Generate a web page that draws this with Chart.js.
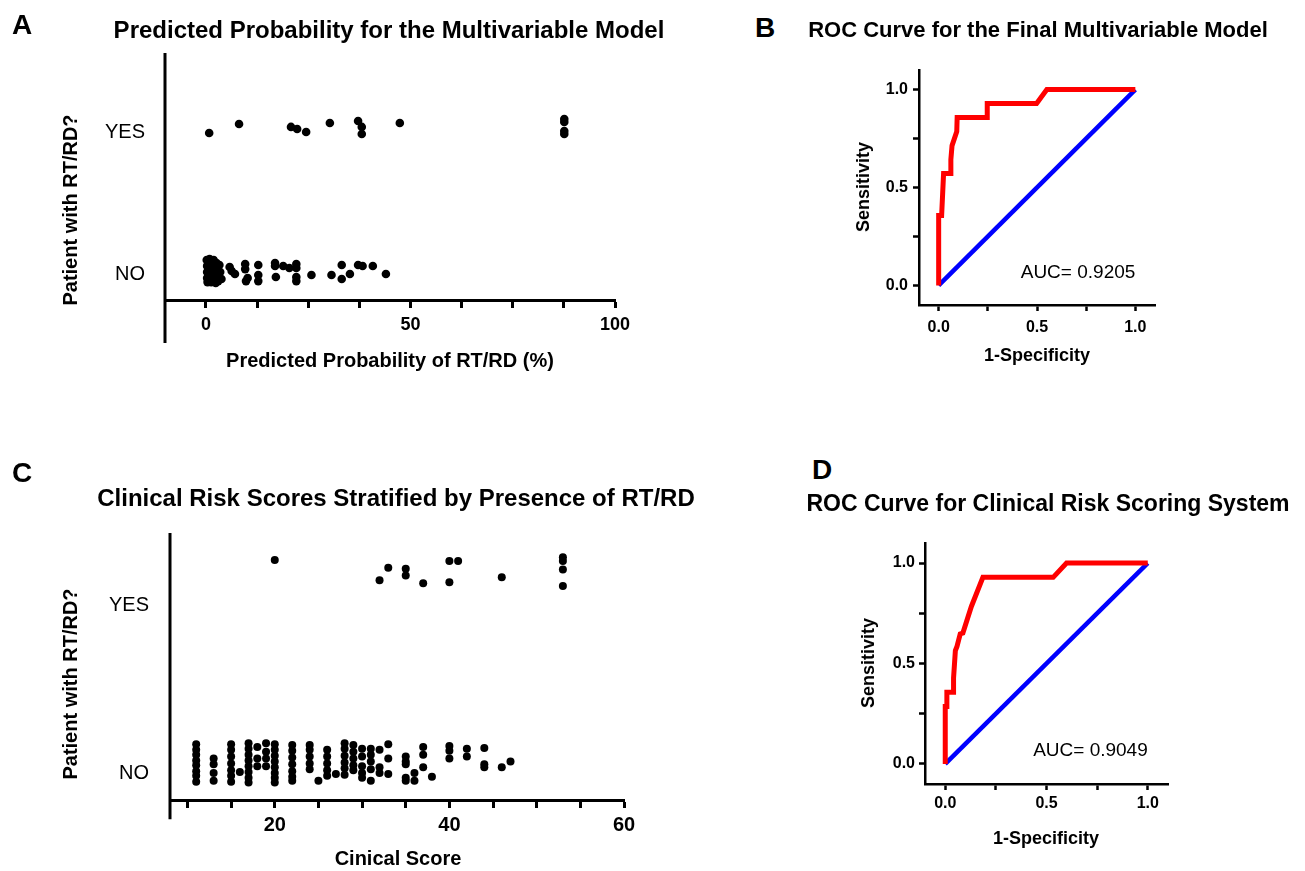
<!DOCTYPE html>
<html>
<head>
<meta charset="utf-8">
<script src="https://cdn.jsdelivr.net/npm/chart.js@4.4.1/dist/chart.umd.min.js"></script>
<style>
html, body { margin: 0; padding: 0; background: #fff; overflow: hidden; }
body { width: 1305px; height: 871px; position: relative; font-family: "Liberation Sans", Arial, sans-serif; color: #000; }
canvas { position: absolute; }
.t { position: absolute; white-space: nowrap; transform: translate(-50%, -50%); font-weight: bold; line-height: 1; z-index: 2; }
.v { transform: translate(-50%, -50%) rotate(-90deg); }
</style>
</head>
<body>

<canvas id="chartA" width="680" height="380" style="left:0;top:0"></canvas>
<canvas id="chartB" width="500" height="350" style="left:780px;top:40px"></canvas>
<canvas id="chartC" width="700" height="371" style="left:0;top:500px"></canvas>
<canvas id="chartD" width="500" height="360" style="left:780px;top:500px"></canvas>

<!-- panel letters -->
<div class="t" style="left:22px;top:25px;font-size:28px">A</div>
<div class="t" style="left:765px;top:28px;font-size:28px">B</div>
<div class="t" style="left:22px;top:473px;font-size:28px">C</div>
<div class="t" style="left:822px;top:470px;font-size:28px">D</div>

<!-- titles -->
<div class="t" style="left:389px;top:30px;font-size:24px">Predicted Probability for the Multivariable Model</div>
<div class="t" style="left:1038px;top:30px;font-size:22px">ROC Curve for the Final Multivariable Model</div>
<div class="t" style="left:396px;top:498px;font-size:24px">Clinical Risk Scores Stratified by Presence of RT/RD</div>
<div class="t" style="left:1048px;top:503px;font-size:23px">ROC Curve for Clinical Risk Scoring System</div>

<!-- axis titles -->
<div class="t" style="left:390px;top:360px;font-size:20px">Predicted Probability of RT/RD (%)</div>
<div class="t v" style="left:70px;top:210px;font-size:20px">Patient with RT/RD?</div>
<div class="t" style="left:1037px;top:355px;font-size:18px">1-Specificity</div>
<div class="t v" style="left:863px;top:187px;font-size:18px">Sensitivity</div>
<div class="t" style="left:398px;top:858px;font-size:20px">Cinical Score</div>
<div class="t v" style="left:70px;top:684px;font-size:20px">Patient with RT/RD?</div>
<div class="t" style="left:1046px;top:838px;font-size:18px">1-Specificity</div>
<div class="t v" style="left:868px;top:663px;font-size:18px">Sensitivity</div>

<script>
/* ===============================
   DATA
================================= */
const groups = ['NO', 'YES'];

// A: predicted probability (%) per patient, with vertical jitter around its group
const probNoPct = [0.2, 0.3, 0.3, 0.3, 0.4, 0.6, 0.6, 0.7, 0.8, 0.9, 1.0, 1.1, 1.1, 1.3, 1.4, 1.5, 1.6, 1.7, 1.9, 2.0,
    2.1, 2.2, 2.4, 2.6, 2.7, 2.9, 3.0, 3.3, 3.5, 3.8, 0.5, 1.2, 2.3,
    5.8, 6.3, 7.1, 9.6, 9.6, 10.2, 9.8, 12.8, 12.8, 12.8, 16.9, 16.9, 17.1, 18.9, 20.4,
    22.1, 22.1, 22.1, 22.1, 25.8, 30.7, 33.2, 33.2, 35.2, 37.2, 38.3, 40.8, 44.0];
const probNoJitter = [0.10, 0.057, 0.014, -0.028, -0.057, 0.085, 0.035, -0.007, -0.05, 0.106, 0.064, 0.021, -0.021, -0.057, 0.085, 0.043, 0, -0.043, 0.099, 0.057,
    0.014, -0.028, -0.064, 0.078, 0.028, -0.014, -0.05, 0.064, 0.014, -0.035, 0.07, -0.035, 0.04,
    0.05, 0.021, 0, 0.071, 0.035, -0.028, -0.05, 0.064, -0.007, -0.05, 0.078, 0.057, -0.021, 0.057, 0.043,
    0.071, 0.043, -0.021, -0.05, -0.007, -0.007, 0.064, -0.035, 0, 0.064, 0.057, 0.057, 0];
const probYesPct = [0.8, 8.1, 20.8, 22.3, 24.5, 30.3, 37.2, 38.1, 38.1, 47.4, 87.6, 87.6, 87.6, 87.6];
const probYesJitter = [0, 0.064, 0.043, 0.028, 0.007, 0.071, 0.085, 0.043, -0.007, 0.071, 0.099, 0.078, 0.014, -0.007];
const probTicks = [0, 12.5, 25, 37.5, 50, 62.5, 75, 87.5, 100];
const probLabels = [0, 50, 100];

// C: clinical score per patient
const scoreNo = [
    11, 11, 11, 11, 11, 11, 11, 11,
    13, 13, 13, 13,
    15, 15, 15, 15, 15, 15, 15,
    16,
    17, 17, 17, 17, 17, 17, 17, 17,
    18, 18, 18,
    19, 19, 19, 19,
    20, 20, 20, 20, 20, 20, 20, 20,
    22, 22, 22, 22, 22, 22, 22,
    24, 24, 24, 24, 24,
    25,
    26, 26, 26, 26, 26,
    27,
    28, 28, 28, 28, 28, 28,
    29, 29, 29, 29, 29,
    30, 30, 30, 30, 30,
    31, 31, 31, 31, 31,
    32, 32, 32,
    33, 33, 33,
    35, 35, 35, 35, 35,
    36, 36,
    37, 37, 37,
    38,
    40, 40, 40,
    42, 42,
    44, 44, 44,
    46,
    47];
const scoreNoJitter = [
    0.172, 0.138, 0.109, 0.075, 0.046, 0.011, -0.017, -0.052,
    0.086, 0.052, 0, -0.046,
    0.172, 0.138, 0.098, 0.057, 0.017, -0.017, -0.052,
    0.006,
    0.178, 0.144, 0.109, 0.075, 0.040, 0.006, -0.029, -0.057,
    0.155, 0.086, 0.040,
    0.178, 0.126, 0.086, 0.040,
    0.172, 0.138, 0.103, 0.069, 0.034, 0, -0.029, -0.057,
    0.167, 0.132, 0.092, 0.052, 0.011, -0.023, -0.046,
    0.167, 0.138, 0.098, 0.057, 0.023,
    -0.046,
    0.138, 0.098, 0.057, 0.017, -0.017,
    -0.006,
    0.178, 0.144, 0.103, 0.063, 0.029, -0.011,
    0.167, 0.126, 0.086, 0.046, 0.017,
    0.144, 0.098, 0.040, 0, -0.029,
    0.144, 0.109, 0.069, 0.023, -0.046,
    0.138, 0.034, 0,
    0.172, 0.086, -0.006,
    0.098, 0.069, 0.052, -0.029, -0.046,
    0, -0.046,
    0.155, 0.109, 0.034,
    -0.023,
    0.161, 0.132, 0.086,
    0.144, 0.098,
    0.149, 0.052, 0.034,
    0.034,
    0.069];
const scoreYes = [20, 32, 33, 35, 35, 37, 40, 40, 41, 46, 53, 53, 53, 53];
const scoreYesJitter = [0.270, 0.149, 0.224, 0.218, 0.178, 0.132, 0.264, 0.138, 0.264, 0.167, 0.287, 0.264, 0.213, 0.115];
const scoreTicks = [10, 15, 20, 25, 30, 35, 40, 45, 50, 55, 60];
const scoreLabels = [20, 40, 60];

// B / D: ROC curves
const rocFinalFpr = [0, 0, 0.015, 0.025, 0.058, 0.062, 0.068, 0.092, 0.094, 0.247, 0.247, 0.498, 0.55, 1];
const rocFinalTpr = [0, 0.357, 0.357, 0.571, 0.571, 0.643, 0.714, 0.786, 0.857, 0.857, 0.929, 0.929, 1, 1];
const rocClinFpr = [0, 0, 0.008, 0.008, 0.041, 0.041, 0.05, 0.058, 0.074, 0.087, 0.129, 0.186, 0.533, 0.599, 1];
const rocClinTpr = [0, 0.286, 0.286, 0.357, 0.357, 0.428, 0.564, 0.585, 0.647, 0.652, 0.784, 0.929, 0.929, 1, 1];
const chanceFpr = [0, 1];
const chanceTpr = [0, 1];
const rocTicks = [0, 0.25, 0.5, 0.75, 1];
const rocLabels = [0, 0.5, 1];
const aucFinal = 'AUC= 0.9205';
const aucClin = 'AUC= 0.9049';

/* ===============================
   PLUGINS
================================= */
const FONT = '"Liberation Sans", Arial, sans-serif';
Chart.defaults.font.family = FONT;
Chart.defaults.color = '#000';
Chart.defaults.animation = false;

// y axis line that runs past the x axis (Prism style)
const axisExtension = {
    id: 'axisExtension',
    afterDraw(chart, args, opts) {
        if (opts.to === undefined) return;
        const { ctx, chartArea } = chart;
        const y = chart.scales.y;
        ctx.save();
        ctx.strokeStyle = '#000';
        ctx.lineWidth = opts.width;
        ctx.beginPath();
        ctx.moveTo(chartArea.left, y.getPixelForValue(y.max));
        ctx.lineTo(chartArea.left, y.getPixelForValue(opts.to));
        ctx.stroke();
        ctx.restore();
    }
};

const aucLabel = {
    id: 'aucLabel',
    afterDatasetsDraw(chart, args, opts) {
        if (!opts.text) return;
        const { ctx, scales: { x, y } } = chart;
        ctx.save();
        ctx.font = '19px ' + FONT;
        ctx.textAlign = 'right';
        ctx.textBaseline = 'middle';
        ctx.fillStyle = '#000';
        ctx.fillText(opts.text, x.getPixelForValue(opts.at[0]), y.getPixelForValue(opts.at[1]));
        ctx.restore();
    }
};
Chart.register(axisExtension, aucLabel);

const toPoints = (xs, ys, base) => xs.map((v, i) => ({ x: v, y: base + ys[i] }));
const setTicks = list => s => { s.ticks = list.map(v => ({ value: v })); };

/* ===============================
   STRIP CHARTS (A, C)
================================= */
function stripChart(id, c) {
    return new Chart(document.getElementById(id), {
        type: 'scatter',
        data: {
            datasets: [
                { data: toPoints(c.noX, c.noJ, 0), pointRadius: c.r, backgroundColor: '#000', borderWidth: 0 },
                { data: toPoints(c.yesX, c.yesJ, 1), pointRadius: c.r, backgroundColor: '#000', borderWidth: 0 }
            ]
        },
        options: {
            responsive: false,
            layout: { padding: c.padding },
            plugins: {
                legend: { display: false },
                tooltip: { enabled: false },
                axisExtension: { to: c.yExt, width: 3 }
            },
            scales: {
                x: {
                    type: 'linear', min: c.xMin, max: c.xMax,
                    afterFit: s => { s.height = c.xHeight; },
                    afterBuildTicks: setTicks(c.xTicks),
                    ticks: {
                        callback: v => c.xLabels.includes(v) ? String(v) : '',
                        font: { size: c.tickSize, weight: 'bold' },
                        padding: c.tickPad, autoSkip: false, maxRotation: 0
                    },
                    grid: { drawOnChartArea: false, tickLength: 8, tickWidth: 3, tickColor: '#000' },
                    border: { color: '#000', width: 3 }
                },
                y: {
                    type: 'linear', min: c.yMin, max: c.yMax,
                    afterFit: s => { s.width = c.yWidth; },
                    afterBuildTicks: setTicks([0, 1]),
                    ticks: { callback: v => groups[v], font: { size: 20 }, padding: c.groupPad },
                    grid: { display: false, drawTicks: false },
                    border: { display: false }
                }
            }
        }
    });
}

/* ===============================
   ROC CHARTS (B, D)
================================= */
function rocChart(id, c) {
    const axis = (extra) => Object.assign({
        type: 'linear', min: -0.1, max: 1.1,
        afterBuildTicks: setTicks(rocTicks),
        ticks: {
            callback: v => rocLabels.includes(v) ? v.toFixed(1) : '',
            font: { size: 16, weight: 'bold' }, autoSkip: false, maxRotation: 0
        },
        grid: { drawOnChartArea: false, tickLength: 6, tickWidth: 2.5, tickColor: '#000' },
        border: { color: '#000', width: 2.5 }
    }, extra);

    const x = axis({ afterFit: s => { s.height = c.xHeight; } });
    x.ticks.padding = c.xPad;
    const y = axis({ afterFit: s => { s.width = c.yWidth; } });
    y.ticks.padding = c.yPad;

    return new Chart(document.getElementById(id), {
        type: 'scatter',
        data: {
            datasets: [
                {
                    data: toPoints(c.fpr, c.tpr, 0), showLine: true, pointRadius: 0,
                    borderColor: '#ff0000', borderWidth: 5, borderJoinStyle: 'miter', tension: 0
                },
                {
                    data: toPoints(chanceFpr, chanceTpr, 0), showLine: true, pointRadius: 0,
                    borderColor: '#0000ff', borderWidth: 4.5, tension: 0
                }
            ]
        },
        options: {
            responsive: false,
            layout: { padding: c.padding },
            plugins: {
                legend: { display: false },
                tooltip: { enabled: false },
                aucLabel: { text: c.auc, at: [1, 0.066] }
            },
            scales: { x, y }
        }
    });
}

/* ===============================
   INIT
================================= */
stripChart('chartA', {
    noX: probNoPct, noJ: probNoJitter, yesX: probYesPct, yesJ: probYesJitter, r: 4.3,
    xMin: -10, xMax: 100, xTicks: probTicks, xLabels: probLabels,
    yMin: -0.184, yMax: 1.567, yExt: -0.489,
    padding: { top: 53, right: 65, left: 0, bottom: 0 },
    yWidth: 165, xHeight: 80, tickSize: 18, tickPad: 6, groupPad: 20
});

stripChart('chartC', {
    noX: scoreNo, noJ: scoreNoJitter, yesX: scoreYes, yesJ: scoreYesJitter, r: 4,
    xMin: 8, xMax: 60, xTicks: scoreTicks, xLabels: scoreLabels,
    yMin: -0.161, yMax: 1.431, yExt: -0.276,
    padding: { top: 23, right: 76, left: 0, bottom: 0 },
    yWidth: 170, xHeight: 71, tickSize: 20, tickPad: 5, groupPad: 21
});

rocChart('chartB', {
    fpr: rocFinalFpr, tpr: rocFinalTpr, auc: aucFinal,
    padding: { top: 30, right: 125, left: 0, bottom: 0 },
    yWidth: 139, xHeight: 85, xPad: 7, yPad: 5
});

rocChart('chartD', {
    fpr: rocClinFpr, tpr: rocClinTpr, auc: aucClin,
    padding: { top: 43, right: 112, left: 0, bottom: 0 },
    yWidth: 145, xHeight: 76, xPad: 4, yPad: 4
});
</script>
</body>
</html>
